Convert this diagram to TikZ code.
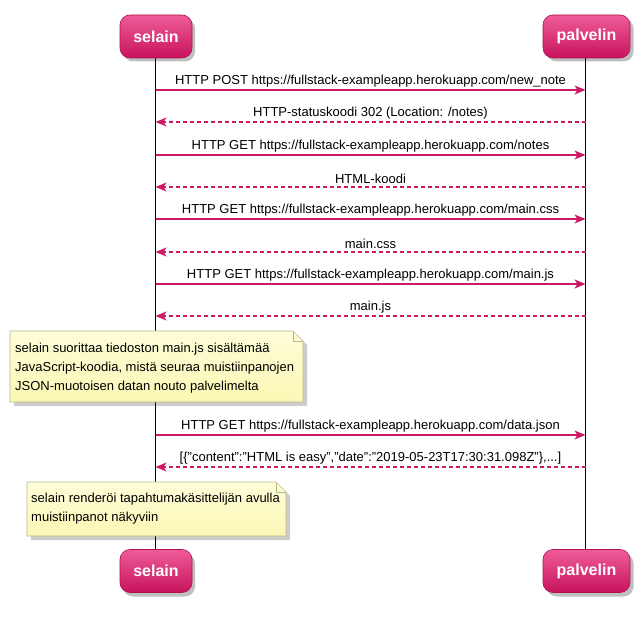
\documentclass[tikz,border=0pt]{standalone}
\usepackage{fontspec}
\setmainfont{Liberation Sans}
\usetikzlibrary{arrows.meta}
\definecolor{msgc}{HTML}{CC1A64}
\definecolor{parttop}{HTML}{EE5C98}
\definecolor{partbot}{HTML}{C8135C}
\definecolor{partline}{HTML}{B0104E}
\definecolor{notefill}{HTML}{FBF7B5}
\definecolor{notetop}{HTML}{FEFDD8}
\definecolor{noteline}{HTML}{B9B98F}
\tikzset{
  part/.style={rounded corners=10pt, top color=parttop, bottom color=partbot,
    draw=partline, line width=0.6pt, minimum width=72pt, minimum height=43pt,
    text=white, font=\fontsize{16}{19}\selectfont\bfseries, inner sep=0pt},
  partshadow/.style={rounded corners=10pt, fill=black, fill opacity=0.25, draw=none,
    minimum width=72pt, minimum height=43pt},
  life/.style={line width=1pt, black},
  req/.style={draw=msgc, line width=1.3pt, -{Stealth[length=11pt,width=9pt,inset=3pt]}},
  resp/.style={req, dash pattern=on 4pt off 3pt},
  lbl/.style={font=\fontsize{13}{15}\selectfont, anchor=south, inner sep=2pt},
  notetext/.style={font=\fontsize{13}{19}\selectfont, anchor=north west, align=left, inner sep=0pt},
  noteshape/.style={top color=notetop, bottom color=notefill, draw=noteline, line width=0.7pt},
}
\begin{document}
\begin{tikzpicture}[x=1pt,y=-1pt]
\useasboundingbox (0,0) rectangle (643,617);
% shadows of participants
\node[partshadow] at (159,40) {};
\node[partshadow, minimum width=87pt] at (590,40) {};
\node[partshadow] at (159,575) {};
\node[partshadow, minimum width=87pt] at (590,575) {};
% lifelines
\coordinate (sTop) at (155.5,58);
\coordinate (sBot) at (155.5,549);
\coordinate (pTop) at (585.5,58);
\coordinate (pBot) at (585.5,549);
\draw[life] (sTop) -- (sBot);
\draw[life] (pTop) -- (pBot);
% participants
\node[part] (s1) at (156,36.5) {selain};
\node[part, minimum width=87pt] (p1) at (586.5,36.5) {palvelin};
\node[part] (s2) at (156,571) {selain};
\node[part, minimum width=87pt] (p2) at (586.5,571) {palvelin};
% message end points and labels
\foreach \y/\txt [count=\i] in {
  90/{HTTP POST https://fullstack-exampleapp.herokuapp.com/new\_note},
  122/{HTTP-statuskoodi 302 (Location: /notes)},
  155/{HTTP GET https://fullstack-exampleapp.herokuapp.com/notes},
  187/{HTML-koodi},
  219/{HTTP GET https://fullstack-exampleapp.herokuapp.com/main.css},
  252/{main.css},
  284/{HTTP GET https://fullstack-exampleapp.herokuapp.com/main.js},
  316/{main.js},
  435/{HTTP GET https://fullstack-exampleapp.herokuapp.com/data.json},
  467/{[\{"content":"HTML is easy","date":"2019-05-23T17:30:31.098Z"\},...]}}
{
  \coordinate (a\i) at (155.5,\y);
  \coordinate (b\i) at (585.5,\y);
  \node[lbl] (l\i) at (370.5,\y-1) {\txt};
}
\draw[req]  (a1) -- (b1);
\draw[resp] (b2) -- (a2);
\draw[req]  (a3) -- (b3);
\draw[resp] (b4) -- (a4);
\draw[req]  (a5) -- (b5);
\draw[resp] (b6) -- (a6);
\draw[req]  (a7) -- (b7);
\draw[resp] (b8) -- (a8);
\draw[req]  (a9) -- (b9);
\draw[resp] (b10) -- (a10);
% note 1
\fill[black, opacity=0.2] (14,335) -- (297,335) -- (307,345) -- (307,406) -- (14,406) -- cycle;
\draw[noteshape] (10,331) -- (293,331) -- (303,341) -- (303,402) -- (10,402) -- cycle;
\draw[noteline, line width=0.7pt] (293,331) -- (293,341) -- (303,341);
\node[notetext] (n1) at (15,343) {selain suorittaa tiedoston main.js sisältämää\\JavaScript-koodia, mistä seuraa muistiinpanojen\\JSON-muotoisen datan nouto palvelimelta};
% note 2
\fill[black, opacity=0.2] (31,486) -- (280,486) -- (290,496) -- (290,540) -- (31,540) -- cycle;
\draw[noteshape] (27,482) -- (276,482) -- (286,492) -- (286,536) -- (27,536) -- cycle;
\draw[noteline, line width=0.7pt] (276,482) -- (276,492) -- (286,492);
\node[notetext] (n2) at (31,493) {selain renderöi tapahtumakäsittelijän avulla\\muistiinpanot näkyviin};
\end{tikzpicture}
\end{document}
